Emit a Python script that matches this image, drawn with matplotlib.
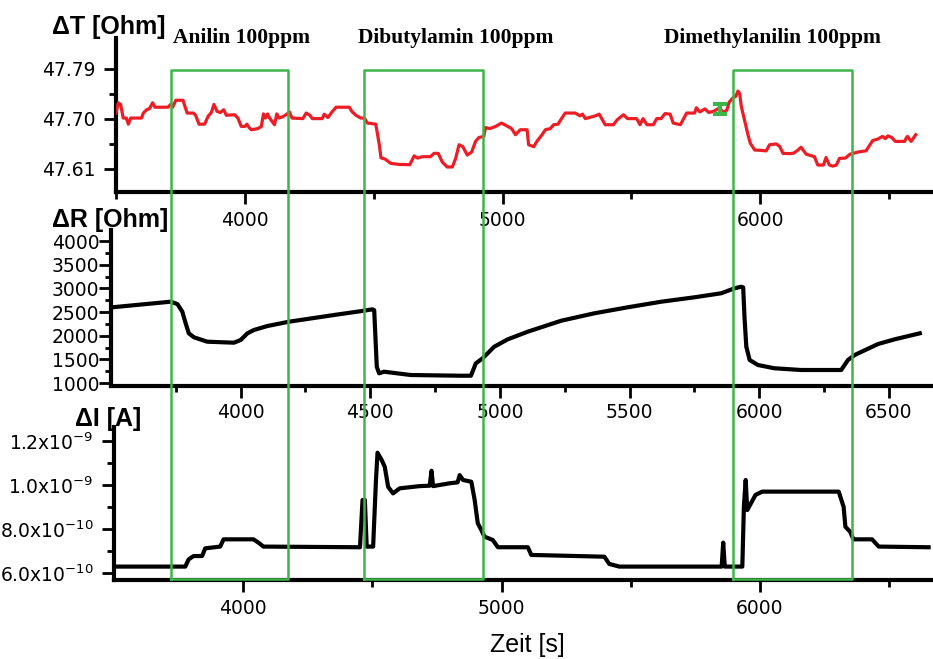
import numpy as np
import matplotlib
matplotlib.use('Agg')
import matplotlib.pyplot as plt
from matplotlib import rcParams
from matplotlib.lines import Line2D
from matplotlib.transforms import blended_transform_factory
from matplotlib.ticker import FixedLocator, FixedFormatter, NullFormatter

rcParams['font.family'] = 'DejaVu Sans'
rcParams['font.size'] = 13
rcParams['mathtext.default'] = 'regular'

# ---- data ----
t_time = [3500, 3509, 3518, 3528, 3540, 3548, 3557, 3599, 3606, 3619, 3630, 3642, 3651, 3702,
          3712, 3720, 3732, 3760, 3776, 3800, 3809, 3822, 3844, 3857, 3870, 3880, 3892, 3905,
          3918, 3928, 3960, 3973, 3986, 4000, 4008, 4016, 4025, 4050, 4064, 4072, 4080, 4088,
          4096, 4115, 4124, 4132, 4145, 4160, 4173, 4183, 4225, 4238, 4252, 4262, 4300, 4308,
          4322, 4340, 4354, 4405, 4415, 4431, 4450, 4463, 4476, 4508, 4515, 4522, 4528, 4545,
          4566, 4600, 4618, 4640, 4657, 4670, 4689, 4720, 4734, 4750, 4766, 4785, 4805, 4818,
          4831, 4845, 4863, 4880, 4895, 4908, 4927, 4934, 4950, 4973, 4996, 5020, 5035, 5050,
          5069, 5095, 5101, 5121, 5133, 5153, 5166, 5185, 5198, 5215, 5230, 5243, 5282, 5300,
          5310, 5321, 5360, 5375, 5398, 5430, 5445, 5469, 5485, 5520, 5533, 5545, 5560, 5585,
          5598, 5615, 5630, 5650, 5662, 5690, 5714, 5745, 5752, 5765, 5785, 5800, 5818, 5830,
          5841, 5856, 5870, 5879, 5894, 5905, 5913, 5920, 5926, 5940, 5952, 5961, 5978, 6000,
          6023, 6036, 6062, 6075, 6088, 6115, 6130, 6145, 6158, 6178, 6210, 6223, 6245, 6255,
          6268, 6281, 6295, 6307, 6330, 6348, 6380, 6410, 6420, 6436, 6455, 6474, 6485, 6495,
          6510, 6524, 6560, 6565, 6571, 6585, 6603]
t_val = [47.710, 47.7285, 47.7255, 47.701, 47.701, 47.690, 47.701, 47.701, 47.710, 47.716,
         47.718, 47.7285, 47.7205, 47.7205, 47.7255, 47.7205, 47.733, 47.733, 47.710, 47.710,
         47.706, 47.690, 47.690, 47.704, 47.711, 47.7255, 47.713, 47.711, 47.716, 47.706,
         47.707, 47.701, 47.686, 47.686, 47.690, 47.684, 47.680, 47.682, 47.686, 47.7085,
         47.701, 47.7085, 47.701, 47.689, 47.7085, 47.701, 47.703, 47.707, 47.712, 47.701,
         47.700, 47.710, 47.706, 47.700, 47.700, 47.708, 47.702, 47.713, 47.7205, 47.7205,
         47.713, 47.706, 47.701, 47.701, 47.692, 47.690, 47.671, 47.652, 47.6295, 47.627,
         47.6195, 47.6175, 47.6175, 47.617, 47.633, 47.629, 47.6315, 47.6315, 47.6375, 47.6375,
         47.622, 47.613, 47.613, 47.6285, 47.653, 47.650, 47.6345, 47.640, 47.659, 47.666,
         47.668, 47.684, 47.682, 47.686, 47.692, 47.686, 47.682, 47.671, 47.680, 47.680,
         47.653, 47.6495, 47.659, 47.671, 47.680, 47.682, 47.689, 47.690, 47.701, 47.710,
         47.710, 47.705, 47.708, 47.700, 47.705, 47.708, 47.689, 47.689, 47.698, 47.707,
         47.700, 47.700, 47.689, 47.700, 47.689, 47.689, 47.700, 47.700, 47.709, 47.708,
         47.692, 47.689, 47.710, 47.710, 47.7195, 47.712, 47.7175, 47.711, 47.713, 47.716,
         47.7195, 47.7115, 47.715, 47.7295, 47.7375, 47.740, 47.7495, 47.745, 47.7225, 47.695,
         47.671, 47.656, 47.6435, 47.643, 47.642, 47.653, 47.6545, 47.650, 47.6375, 47.637,
         47.638, 47.643, 47.6485, 47.636, 47.6315, 47.6165, 47.6165, 47.630, 47.6165, 47.6145,
         47.6165, 47.6285, 47.629, 47.636, 47.640, 47.642, 47.649, 47.6605, 47.663, 47.668,
         47.664, 47.669, 47.666, 47.659, 47.659, 47.664, 47.668, 47.659, 47.671]

r_time = [3505, 3730, 3756, 3775, 3788, 3800, 3820, 3871, 3974, 4000, 4026, 4051, 4103, 4186,
          4360, 4476, 4508, 4515, 4525, 4534, 4553, 4656, 4849, 4888, 4907, 4933, 4978, 5030,
          5107, 5236, 5364, 5493, 5622, 5750, 5853, 5905, 5930, 5938, 5943, 5950, 5963, 5995,
          6059, 6162, 6316, 6342, 6368, 6458, 6522, 6619]
r_val = [2600, 2718, 2669, 2507, 2261, 2050, 1966, 1873, 1852, 1909, 2050, 2120, 2204, 2295,
         2437, 2528, 2557, 2540, 1344, 1205, 1239, 1169, 1154, 1154, 1416, 1522, 1767, 1923,
         2084, 2316, 2473, 2600, 2718, 2811, 2896, 3001, 3035, 3020, 2401, 1767, 1486, 1380,
         1311, 1275, 1275, 1486, 1592, 1824, 1923, 2050]

i_time = [3506, 3776, 3789, 3808, 3841, 3853, 3911, 3924, 4040, 4066, 4078, 4452, 4462, 4471,
          4478, 4503, 4514, 4520, 4536, 4548, 4561, 4580, 4606, 4683, 4722, 4729, 4735, 4799,
          4830, 4838, 4851, 4883, 4896, 4908, 4922, 4934, 4966, 4986, 5102, 5115, 5398, 5417,
          5456, 5852, 5858, 5864, 5874, 5932, 5938, 5945, 5951, 5983, 6009, 6305, 6324, 6331,
          6349, 6362, 6434, 6460, 6653]
i_val = [6.29e-10, 6.29e-10, 6.62e-10, 6.77e-10, 6.77e-10, 7.12e-10, 7.20e-10, 7.53e-10,
         7.53e-10, 7.32e-10, 7.20e-10, 7.17e-10, 9.32e-10, 9.32e-10, 7.20e-10, 7.20e-10,
         1.023e-9, 1.147e-9, 1.114e-9, 1.083e-9, 9.92e-10, 9.62e-10, 9.85e-10, 9.95e-10,
         9.97e-10, 1.065e-9, 9.95e-10, 1.008e-9, 1.012e-9, 1.045e-9, 1.023e-9, 1.015e-9,
         9.32e-10, 8.26e-10, 7.95e-10, 7.65e-10, 7.50e-10, 7.17e-10, 7.17e-10, 6.82e-10,
         6.74e-10, 6.41e-10, 6.29e-10, 6.29e-10, 7.38e-10, 6.29e-10, 6.29e-10, 6.29e-10,
         9.01e-10, 1.023e-9, 8.86e-10, 9.55e-10, 9.70e-10, 9.70e-10, 9.01e-10, 8.10e-10,
         7.88e-10, 7.53e-10, 7.53e-10, 7.20e-10, 7.17e-10]

marker_time = 5844
marker_val = 47.718

window_start = [3720, 4467, 5895]
window_end = [4173, 4928, 6356]
gas_labels = ['Anilin 100ppm', 'Dibutylamin 100ppm', 'Dimethylanilin 100ppm']

i_ticks = [6e-10, 8e-10, 1.0e-9, 1.2e-9]
i_ticklabels = ['6.0x10$^{-10}$', '8.0x10$^{-10}$', '1.0x10$^{-9}$', '1.2x10$^{-9}$']

GREEN = '#3db54a'
XLIM = (3500, 6670)

fig = plt.figure(figsize=(9.33, 6.59), dpi=100)

ax1 = fig.add_axes([116/933, 1-192/659, 1-116/933, 154/659])
ax2 = fig.add_axes([111/933, 1-386/659, 1-111/933, 156/659])
ax3 = fig.add_axes([114/933, 1-580/659, 1-114/933, 153/659])

for ax in (ax1, ax2, ax3):
    ax.set_facecolor('none')
    for s in ('top', 'right'):
        ax.spines[s].set_visible(False)
    for s in ('left', 'bottom'):
        ax.spines[s].set_linewidth(3)
    ax.tick_params(which='major', length=8.5, width=2, direction='out', labelsize=13.5)
    ax.tick_params(which='minor', length=5, width=2, direction='out')
    ax.set_xlim(*XLIM)

# top: delta T
ax1.plot(t_time, t_val, color='#ee1c24', lw=2.3, zorder=3)
ax1.errorbar([marker_time], [marker_val], yerr=0.009, color=GREEN, lw=3,
             capsize=5, capthick=3, zorder=4)
ax1.set_ylim(47.568, 47.845)
ax1.yaxis.set_major_locator(FixedLocator([47.61, 47.70, 47.79]))
ax1.yaxis.set_minor_locator(FixedLocator([47.655, 47.745]))
ax1.set_yticklabels(['47.61', '47.70', '47.79'])
ax1.xaxis.set_major_locator(FixedLocator([4000, 5000, 6000]))
ax1.xaxis.set_minor_locator(FixedLocator([3500, 4500, 5500, 6500]))
ax1.tick_params(axis='y', pad=6)
ax1.tick_params(axis='x', pad=5)

# middle: delta R
ax2.plot(r_time, r_val, color='black', lw=3, zorder=3)
ax2.set_ylim(937, 4233)
ax2.yaxis.set_major_locator(FixedLocator(list(range(1000, 4001, 500))))
ax2.yaxis.set_minor_locator(FixedLocator(list(range(1250, 4000, 500))))
ax2.xaxis.set_major_locator(FixedLocator(list(range(4000, 6501, 500))))
ax2.xaxis.set_minor_locator(FixedLocator(list(range(3750, 6670, 500))))
ax2.tick_params(axis='y', pad=0)
ax2.tick_params(axis='x', pad=4)
ax2.tick_params(which='minor', length=4)

# bottom: delta I
ax3.plot(i_time, i_val, color='black', lw=3, zorder=3)
ax3.set_ylim(5.68e-10, 1.264e-9)
ax3.yaxis.set_major_locator(FixedLocator(i_ticks))
ax3.yaxis.set_major_formatter(FixedFormatter(i_ticklabels))
ax3.yaxis.set_minor_locator(FixedLocator([7e-10, 9e-10, 1.1e-9]))
ax3.yaxis.set_minor_formatter(NullFormatter())
ax3.xaxis.set_major_locator(FixedLocator([4000, 5000, 6000]))
ax3.xaxis.set_minor_locator(FixedLocator([4500, 5500, 6500]))
ax3.tick_params(axis='y', pad=6)
ax3.tick_params(axis='x', pad=5)

# green exposure windows spanning all panels
trans = blended_transform_factory(ax3.transData, fig.transFigure)
y_top, y_bot = 1 - 70/659, 1 - 579/659
for x0, x1 in zip(window_start, window_end):
    fig.add_artist(Line2D([x0, x0, x1, x1, x0], [y_bot, y_top, y_top, y_bot, y_bot],
                          transform=trans, color=GREEN, lw=1.8, zorder=5))

lab_x = [173/933, 358/933, 664/933]
for x, txt in zip(lab_x, gas_labels):
    fig.text(x, 1 - 38/659, txt, family='Liberation Serif', weight='bold',
             fontsize=15.5, ha='left', va='center')

ylab = dict(family='Liberation Sans', weight='bold', fontsize=18, ha='left', va='center')
fig.text(52/933, 1 - 27/659, 'ΔT [Ohm]', **ylab)
fig.text(52/933, 1 - 220/659, 'ΔR [Ohm]', **ylab)
fig.text(75/933, 1 - 419/659, 'ΔI [A]', **ylab)
fig.text(527/933, 1 - 645/659, 'Zeit [s]', family='Liberation Sans', fontsize=18,
         ha='center', va='center')

fig.savefig('out.png', dpi=100)
